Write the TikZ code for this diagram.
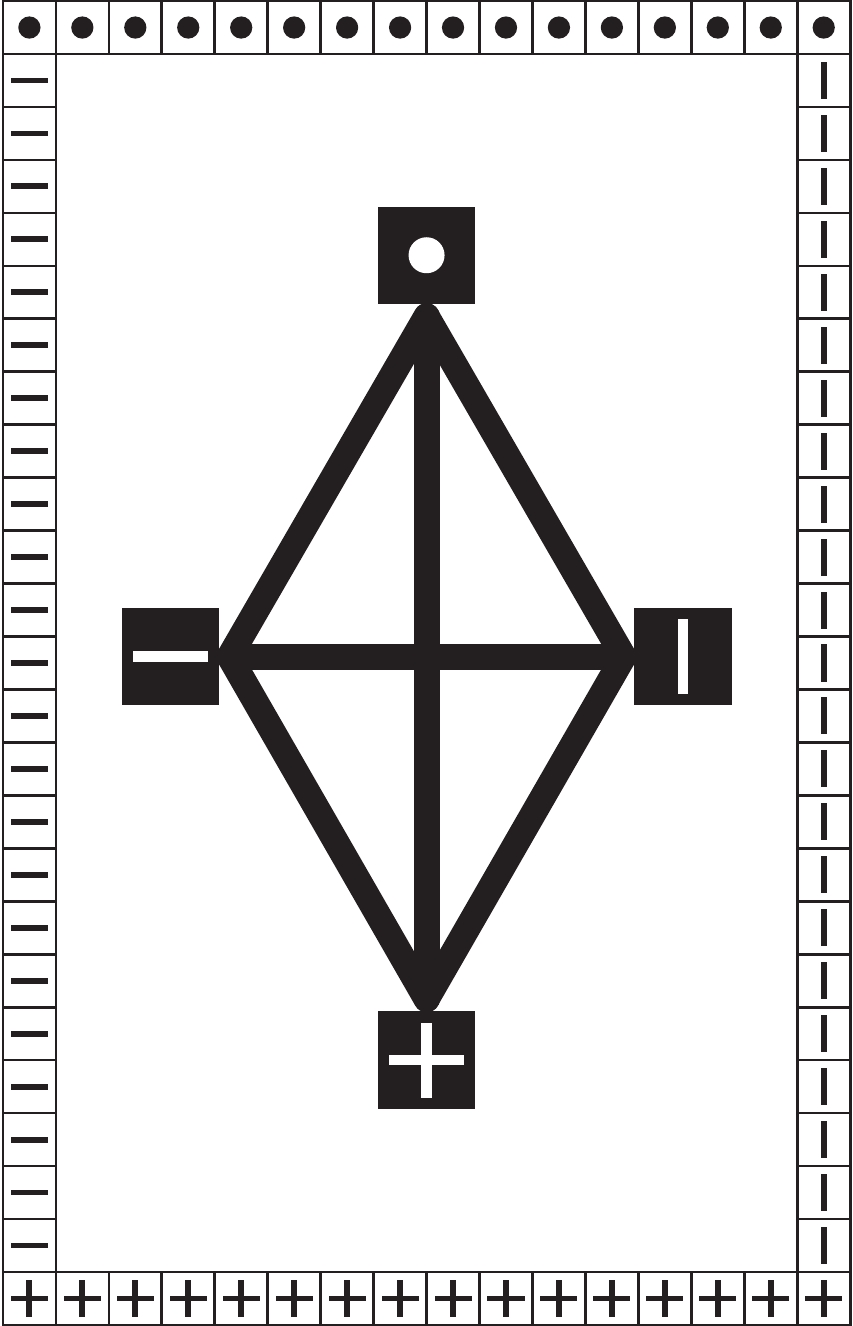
\documentclass[tikz,border=0pt]{standalone}
\usepackage{tikz}
\definecolor{ink}{HTML}{231F20}

\begin{document}
\begin{tikzpicture}[
        cell/.style={
            rectangle,
            draw=ink,
            line width=1.4pt,
            minimum size=1cm,
            inner sep=0pt
        },
        emblem/.style={
            rectangle,
            fill=ink,
            minimum size=1.84cm,
            inner sep=0pt,
            outer sep=0pt
        },
        edge/.style={draw=ink, line width=0.49cm, line join=round, line cap=round}
    ]
    \useasboundingbox (-0.055,-0.02) rectangle (16.04,25.02);

    \foreach \i in {1,...,16} {
        \node[cell] (t\i) at (\i-0.5,24.5) {};
        \node[cell] (b\i) at (\i-0.5,0.5) {};
        \fill[ink] (t\i.center) circle (0.21);
        \fill[ink] ([shift={(-0.35,-0.055)}]b\i.center) rectangle +(0.7,0.11);
        \fill[ink] ([shift={(-0.055,-0.35)}]b\i.center) rectangle +(0.11,0.7);
    }
    \foreach \j in {1,...,23} {
        \node[cell] (l\j) at (0.5,\j+0.5) {};
        \node[cell] (r\j) at (15.5,\j+0.5) {};
        \fill[ink] ([shift={(-0.35,-0.055)}]l\j.center) rectangle +(0.7,0.11);
        \fill[ink] ([shift={(-0.055,-0.35)}]r\j.center) rectangle +(0.11,0.7);
    }

    \node[emblem] (apex) at (8,20.2) {};
    \node[emblem] (west) at (3.16,12.62) {};
    \node[emblem] (east) at (12.84,12.62) {};
    \node[emblem] (nadir) at (8,5.0) {};

    \coordinate (vt) at ([yshift=-0.23cm]apex.south);
    \coordinate (vb) at ([yshift=0.23cm]nadir.north);
    \coordinate (vl) at ([xshift=0.2cm]west.east);
    \coordinate (vr) at ([xshift=-0.2cm]east.west);

    \draw[edge] (vt) -- (vl) -- (vb) -- (vr) -- cycle;
    \draw[edge] (vt) -- (vb);
    \draw[edge] (vl) -- (vr);

    \fill[white] (apex.center) circle (0.34);
    \fill[white] ([shift={(-0.71,-0.1)}]west.center) rectangle +(1.42,0.2);
    \fill[white] ([shift={(-0.1,-0.71)}]east.center) rectangle +(0.2,1.42);
    \fill[white] ([shift={(-0.71,-0.1)}]nadir.center) rectangle +(1.42,0.2);
    \fill[white] ([shift={(-0.1,-0.71)}]nadir.center) rectangle +(0.2,1.42);
\end{tikzpicture}
\end{document}
